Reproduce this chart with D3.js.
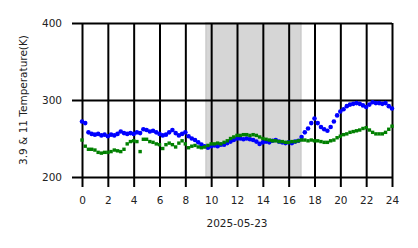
<!DOCTYPE html>
<html>
<head>
<meta charset="utf-8">
<script src="https://cdn.jsdelivr.net/npm/d3@7"></script>
<style>
  body { margin: 0; background: #fff; }
  text { font-family: "DejaVu Sans", sans-serif; }
</style>
</head>
<body>
<div id="chart"></div>
<script>
// hours of the day (2025-05-23), 15 min apart
const hours = [
  0, 0.25, 0.5, 0.75, 1, 1.25, 1.5, 1.75, 2, 2.25, 2.5, 2.75,
  3, 3.25, 3.5, 3.75, 4, 4.25, 4.5, 4.75, 5, 5.25, 5.5, 5.75,
  6, 6.25, 6.5, 6.75, 7, 7.25, 7.5, 7.75, 8, 8.25, 8.5, 8.75,
  9, 9.25, 9.5, 9.75, 10, 10.25, 10.5, 10.75, 11, 11.25, 11.5, 11.75,
  12, 12.25, 12.5, 12.75, 13, 13.25, 13.5, 13.75, 14, 14.25, 14.5, 14.75,
  15, 15.25, 15.5, 15.75, 16, 16.25, 16.5, 16.75, 17, 17.25, 17.5, 17.75,
  18, 18.25, 18.5, 18.75, 19, 19.25, 19.5, 19.75, 20, 20.25, 20.5, 20.75,
  21, 21.25, 21.5, 21.75, 22, 22.25, 22.5, 22.75, 23, 23.25, 23.5, 23.75, 24
];

// 3.9 um brightness temperature (blue)
const temp39 = [
  272, 270, 258, 256, 255, 256, 254, 255, 253, 255, 254, 256,
  259, 257, 256, 257, 256, 258, 257, 262, 261, 259, 260, 258,
  256, 254, 255, 258, 261, 257, 254, 256, 258, 253, 250, 248,
  245, 242, 240, 238, 240, 241, 240, 242, 242, 244, 246, 248,
  250, 250, 249, 250, 249, 248, 246, 243, 245, 246, 245, 247,
  248, 246, 245, 244, 245, 244, 246, 247, 252, 258, 263, 270,
  276, 270, 265, 262, 260, 265, 272, 280, 285, 288, 292, 294,
  295, 296, 295, 293, 291, 294, 297, 296, 296, 295, 296, 292, 289
];

// 11 um brightness temperature (green)
const temp11 = [
  248, 240, 236, 236, 235, 232, 231, 232, 232, 233, 235, 234,
  233, 236, 243, 246, 247, 246, 233, 249, 249, 246, 245, 243,
  242, 237, 242, 244, 242, 239, 244, 247, 243, 238, 240, 241,
  239, 238, 239, 241, 243, 243, 244, 243, 245, 247, 250, 252,
  254, 254, 255, 255, 254, 255, 254, 252, 250, 249, 248, 247,
  247, 246, 246, 245, 245, 246, 246, 247, 248, 248, 247, 248,
  247, 247, 246, 245, 245, 247, 248, 251, 253, 255, 256, 258,
  259, 260, 261, 263, 264, 261, 258, 256, 256, 256, 258, 262, 266
];

// shaded span (hours)
const shadeSpan = [9.6, 16.95];

const xTicks = [0, 2, 4, 6, 8, 10, 12, 14, 16, 18, 20, 22, 24];
const yTicks = [200, 300, 400];

const W = 418, H = 248;
const plotLeft = 82, plotRight = 392, plotTop = 23, plotBottom = 177;

const svg = d3.select("#chart").append("svg")
  .attr("width", W)
  .attr("height", H);

const x = d3.scaleLinear().domain([0, 24]).range([plotLeft, plotRight]);
const y = d3.scaleLinear().domain([200, 400]).range([plotBottom, plotTop]);

// shaded region
svg.append("rect")
  .attr("x", x(shadeSpan[0]))
  .attr("y", y(400))
  .attr("width", x(shadeSpan[1]) - x(shadeSpan[0]))
  .attr("height", y(200) - y(400))
  .attr("fill", "#d6d6d6")
  .attr("stroke", "#cbcbcb")
  .attr("stroke-width", 1.5);

// x axis + vertical grid
const gx = svg.append("g")
  .attr("transform", `translate(0,${plotBottom})`)
  .call(d3.axisBottom(x).tickValues(xTicks).tickSizeOuter(0).tickPadding(0));
gx.select(".domain").remove();
gx.selectAll(".tick line")
  .attr("y1", 10)
  .attr("y2", -(plotBottom - plotTop))
  .attr("stroke", "#000")
  .attr("stroke-width", 2);
gx.selectAll(".tick text")
  .attr("y", 20)
  .attr("dy", "0.71em")
  .attr("fill", "#222")
  .style("font-size", "10.5px");

// y axis + horizontal grid
const gy = svg.append("g")
  .attr("transform", `translate(${plotLeft},0)`)
  .call(d3.axisLeft(y).tickValues(yTicks).tickSizeOuter(0));
gy.select(".domain").remove();
gy.selectAll(".tick line")
  .attr("x1", -10)
  .attr("x2", plotRight - plotLeft)
  .attr("stroke", "#000")
  .attr("stroke-width", 2);
gy.selectAll(".tick text")
  .attr("x", -20)
  .attr("fill", "#222")
  .style("font-size", "10.5px");

// axis labels
svg.append("text")
  .attr("x", (plotLeft + plotRight) / 2)
  .attr("y", 227)
  .attr("text-anchor", "middle")
  .attr("fill", "#222")
  .style("font-size", "10.5px")
  .text("2025-05-23");

svg.append("text")
  .attr("transform", `translate(27,${(plotTop + plotBottom) / 2}) rotate(-90)`)
  .attr("text-anchor", "middle")
  .attr("fill", "#222")
  .style("font-size", "10.5px")
  .text("3.9 & 11 Temperature(K)");

// blue points
svg.append("g")
  .selectAll("circle")
  .data(hours)
  .join("circle")
  .attr("cx", d => x(d))
  .attr("cy", (d, i) => y(temp39[i]))
  .attr("r", 2.3)
  .attr("fill", "blue");

// green squares
const sq = 3.4;
svg.append("g")
  .selectAll("rect")
  .data(hours)
  .join("rect")
  .attr("x", d => x(d) - sq / 2)
  .attr("y", (d, i) => y(temp11[i]) - sq / 2)
  .attr("width", sq)
  .attr("height", sq)
  .attr("fill", "green");
</script>
</body>
</html>
